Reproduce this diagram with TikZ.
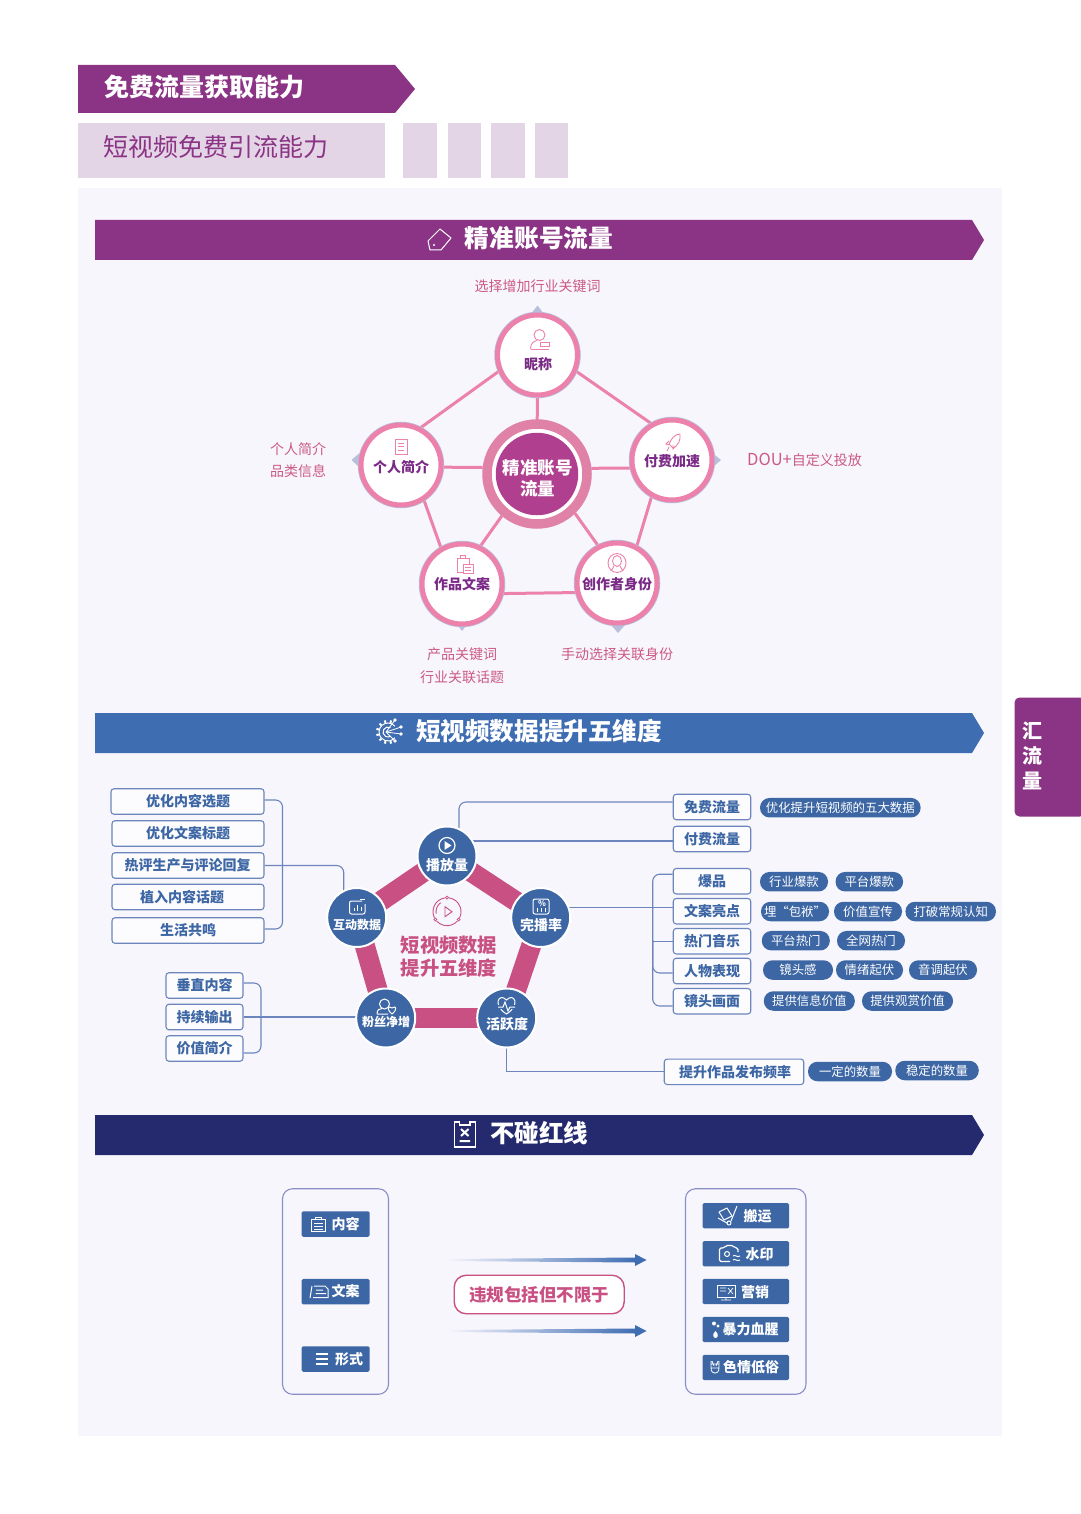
\documentclass[tikz,border=0pt]{standalone}
\usepackage{fontspec}
\setmainfont{Noto Sans CJK SC}
\usetikzlibrary{backgrounds}
\definecolor{grape}{HTML}{8B3384}
\definecolor{lilac}{HTML}{E3D4E6}
\definecolor{panelbg}{HTML}{F7F6FC}
\definecolor{rosetext}{HTML}{CC5A85}
\definecolor{roseline}{HTML}{EC82AB}
\definecolor{roseband}{HTML}{C85082}
\definecolor{ringpink}{HTML}{E081A8}
\definecolor{corepurple}{HTML}{B0408F}
\definecolor{petaltext}{HTML}{7A2A86}
\definecolor{haze}{HTML}{B8BFDB}
\definecolor{barblue}{HTML}{3F6DB2}
\definecolor{dotblue}{HTML}{3C66A4}
\definecolor{edgeblue}{HTML}{6C86BD}
\definecolor{navy}{HTML}{252A6E}
\definecolor{framelav}{HTML}{8A8EC6}
\newcommand{\pxfont}[1]{\fontsize{#1}{#1}\selectfont}
\tikzset{
  whitetext/.style={text=white,font=\pxfont{14}\bfseries,inner sep=0pt},
  note/.style={text=rosetext,font=\pxfont{14},inner sep=0pt},
  petal/.style={circle,draw=roseline,line width=5pt,fill=white,minimum size=80pt,inner sep=0pt,
    preaction={draw=haze,line width=6.5pt}},
  petallabel/.style={text=petaltext,font=\pxfont{14}\bfseries,inner sep=0pt},
  webline/.style={draw=roseline,line width=3pt},
  hazetip/.style={fill=haze},
  topic/.style={draw=edgeblue,line width=1.1pt,fill=panelbg!40!white,rounded corners=3pt,inner sep=0pt,
    text=dotblue,font=\pxfont{14}\bfseries,minimum height=25.5pt},
  pill/.style={fill=dotblue,rounded corners=9.5pt,inner sep=0pt,text=white,font=\pxfont{12.4},minimum height=19.5pt},
  dim/.style={circle,fill=dotblue,draw=white,line width=2pt,minimum size=59pt,inner sep=0pt},
  band/.style={draw=roseband,line width=20pt},
  conn/.style={draw=edgeblue,line width=1.1pt},
  frame/.style={draw=framelav,line width=1.1pt,rounded corners=10pt,fill=panelbg,inner sep=0pt},
  btn/.style={fill=dotblue,rounded corners=1.5pt,inner sep=0pt},
  roseicon/.style={draw=roseline,line width=0.9pt},
  whiteicon/.style={draw=white,line width=1pt},
}
\begin{document}
\begin{tikzpicture}[x=1pt,y=-1pt]
 \useasboundingbox (0,0) rectangle (1080,1514);

 % panel goes under everything
 \begin{pgfonlayer}{background}
 \fill[white] (0,0) rectangle (1080,1514);
 \fill[panelbg] (78,188) rectangle (1002,1436);
 \end{pgfonlayer}

 % heading
 \fill[grape] (78,65) -- (395,65) -- (415,89) -- (395,113) -- (78,113) -- cycle;
 \node[whitetext,font=\pxfont{25}\bfseries,anchor=west] (title) at (104,87) {免费流量获取能力};
 \fill[lilac] (78,123) rectangle (385,178);
 \node[text=grape,font=\pxfont{25},inner sep=0pt,anchor=west] (subtitle) at (103,147) {短视频免费引流能力};
 \foreach \x in {403,447.5,491,534.5} {
 \fill[lilac] (\x,123) rectangle ++(33.5,55);
 }

 % side tab
 \fill[grape,rounded corners=5pt] (1085,697.5) -- (1014.5,697.5) -- (1014.5,816.5) -- (1085,816.5) -- cycle;
 \node[whitetext,font=\pxfont{20}\bfseries] (tabone) at (1032,731) {汇};
 \node[whitetext,font=\pxfont{20}\bfseries] (tabtwo) at (1032,756) {流};
 \node[whitetext,font=\pxfont{20}\bfseries] (tabthree) at (1032,781) {量};

 % section bars
 \fill[grape] (95,220) -- (972,220) -- (984,240) -- (972,260) -- (95,260) -- cycle;
 \node[whitetext,font=\pxfont{24.7}\bfseries] (barone) at (539,238) {精准账号流量};
 \draw[whiteicon,line join=round] (428,241) -- (440,229) -- (451,238) -- (441,250) -- (430,250) -- cycle;
 \fill[white] (434,245) circle (1.1);

 \fill[barblue] (95,713) -- (972,713) -- (984,733) -- (972,753) -- (95,753) -- cycle;
 \node[whitetext,font=\pxfont{24.6}\bfseries] (bartwo) at (539,731) {短视频数据提升五维度};
 \begin{scope}[shift={(388,732)},y=1pt]
 \draw[whiteicon] (40:9) arc (40:320:9);
 \draw[whiteicon] (60:5) arc (60:300:5);
 \foreach \a in {75,105,...,285} {
 \draw[whiteicon,line width=2pt] (\a:9.5) -- (\a:12);
 }
 \end{scope}
 \foreach \dx/\dy in {395/720,401/727,401/734,395/741} {
 \fill[white] (\dx,\dy) circle (1.9);
 \draw[whiteicon,line width=0.8pt] (386,732) -- (\dx,\dy);
 }

 \fill[navy] (95,1115) -- (972,1115) -- (984,1135) -- (972,1155) -- (95,1155) -- cycle;
 \node[whitetext,font=\pxfont{24.5}\bfseries] (barthree) at (539,1133) {不碰红线};
 \draw[whiteicon,line width=1.8pt] (459,1122) -- (454.5,1122) -- (454.5,1147) -- (475.5,1147) -- (475.5,1122) -- (470,1122);
 \draw[whiteicon,line width=1.4pt] (459.5,1120.5) -- (459.5,1125) -- (470,1125) -- (470,1120.5);
 \draw[whiteicon,line width=2pt] (461,1129) -- (468.5,1136) (468.5,1129) -- (461,1136) (459.5,1141) -- (470,1141);

 % first block, the five petals
 \node[note] (nicknote) at (537.5,286) {选择增加行业关键词};
 \node[note,align=center,font=\fontsize{14}{22.5}\selectfont] (profnote) at (298,460) {个人简介\\品类信息};
 \node[note] (paidnote) at (804.5,460) {{\pxfont{16.5}DOU+}自定义投放};
 \node[note,align=center,font=\fontsize{14}{23}\selectfont] (worknote) at (462,665.5) {产品关键词\\行业关联话题};
 \node[note] (idnote) at (617,654) {手动选择关联身份};

 \fill[hazetip] (537.5,305.5) -- (544,314) -- (531,314) -- cycle;
 \fill[hazetip] (351.5,460) -- (359,453.5) -- (359,467) -- cycle;
 \fill[hazetip] (721,460) -- (713,453.5) -- (713,467) -- cycle;
 \fill[hazetip] (462,631) -- (455,622) -- (469,622) -- cycle;
 \fill[hazetip] (618,633) -- (611,625) -- (625,625) -- cycle;

 \node[petal] (nick) at (537.5,355) {};
 \node[petal] (prof) at (401,465) {};
 \node[petal] (paid) at (672,460) {};
 \node[petal] (work) at (462,584) {};
 \node[petal] (ident) at (617,583) {};
 \node[circle,draw=ringpink,line width=9.5pt,fill=white,minimum size=100pt,inner sep=0pt] (core) at (537,474) {};
 \node[circle,fill=corepurple,minimum size=82.5pt,inner sep=0pt] (coredisc) at (537,474) {};

 \begin{pgfonlayer}{background}
 \foreach \a/\b in {nick.203/prof.62,nick.-23/paid.120,nick.center/core.center,
   prof.-3/core.173,paid.191/core.6,work.64/core.230,ident.117/core.-46,
   prof.-57/work.120,paid.241/ident.62,work.-13/ident.193} {
 \draw[webline] (\a) -- (\b);
 }
 \end{pgfonlayer}

 \node[whitetext,font=\fontsize{17.5}{21}\selectfont\bfseries,align=center] (corelabel) at (537.5,478) {精准账号\\流量};
 \node[petallabel] (nicklabel) at (538,364) {昵称};
 \node[petallabel] (proflabel) at (401,467) {个人简介};
 \node[petallabel] (paidlabel) at (672,461) {付费加速};
 \node[petallabel] (worklabel) at (462,584) {作品文案};
 \node[petallabel] (idlabel) at (617,584) {创作者身份};

 % petal icons
 \draw[roseicon] (539.5,335) circle (5.5);
 \draw[roseicon] (530.5,349) .. controls (530.5,343) and (534,341) .. (537,340.5);
 \draw[roseicon] (530.5,349) -- (549,349) (540,342.5) rectangle (549,346);
 \draw[roseicon] (395,439) rectangle (407,454);
 \draw[roseicon] (398,443) -- (404,443) (398,446.5) -- (404,446.5) (398,450) -- (404,450);
 \draw[roseicon,line join=round] (680,434) .. controls (675,434) and (671,439) .. (669,444) -- (673,448) .. controls (678,446) and (681,440) .. (680,434) -- cycle;
 \draw[roseicon] (669,441) -- (666,444) -- (669,445) (673,445) -- (673,449) -- (675,447) (669,447) -- (667,451);
 \draw[roseicon] (457,558) rectangle (469,572);
 \draw[roseicon] (460,558) -- (460,555.5) -- (465,555.5) -- (465,558);
 \draw[roseicon,fill=white] (463,564) rectangle (473,573);
 \draw[roseicon] (465,567) -- (471,567) (465,570) -- (471,570);
 \draw[roseicon] (617,563) ellipse (9 and 9.5);
 \draw[roseicon] (617,561) ellipse (4.5 and 5.5);
 \draw[roseicon] (611,571) -- (614,566) (623,571) -- (620,566);

 % second block, five dimensions
 \node[topic,minimum width=153pt] (topicone) at (187.5,801.5) {\hspace*{1pt}优化内容选题};
 \node[topic,minimum width=152pt] (topictwo) at (188,833.5) {优化文案标题};
 \node[topic,minimum width=152pt] (topicthree) at (188,865.5) {\hspace*{-1pt}热评生产与评论回复};
 \node[topic,minimum width=152pt] (topicfour) at (188,897) {\hspace*{-12pt}植入内容话题};
 \node[topic,minimum width=152pt] (topicfive) at (188,930.5) {生活共鸣};
 \node[topic,minimum width=77pt] (vert) at (204.5,985.5) {垂直内容};
 \node[topic,minimum width=77pt] (keep) at (204.5,1017) {持续输出};
 \node[topic,minimum width=77pt] (worth) at (204.5,1048.5) {价值简介};

 \node[dim] (playnum) at (447,856) {};
 \node[dim] (inter) at (356.7,917.5) {};
 \node[dim] (finish) at (540.7,917.5) {};
 \node[dim] (fans) at (385.7,1018) {};
 \node[dim] (active) at (506.7,1018) {};

 \node[topic,minimum width=77.5pt] (freeflow) at (712,807) {免费流量};
 \node[topic,minimum width=77.5pt] (paidflow) at (712,839) {付费流量};
 \node[topic,minimum width=77.5pt] (hits) at (712,881.2) {爆品};
 \node[topic,minimum width=77.5pt] (copyhl) at (712,911.2) {文案亮点};
 \node[topic,minimum width=77.5pt] (music) at (712,941.2) {热门音乐};
 \node[topic,minimum width=77.5pt] (person) at (712,971) {人物表现};
 \node[topic,minimum width=77.5pt] (shot) at (712,1001.2) {镜头画面};
 \node[topic,minimum width=139.5pt] (freq) at (734,1071.8) {\hspace*{2pt}提升作品发布频率};

 \coordinate (bracea) at (282.5,865);
 \coordinate (braceb) at (261,1017);
 \coordinate (trunk) at (652.7,940);

 \begin{pgfonlayer}{background}
 \foreach \a/\b in {playnum/finish,finish/active,active/fans,fans/inter,inter/playnum} {
 \draw[band] (\a.center) -- (\b.center);
 }
 \draw[conn,rounded corners=7pt] ([yshift=1.5pt]topicone.east) -| (bracea) |- ([yshift=1.5pt]topicfive.east);
 \draw[conn,rounded corners=7pt] ([yshift=2.5pt]vert.east) -| (braceb) |- ([yshift=-4.5pt]worth.east);
 \draw[conn,rounded corners=7pt] (topicthree.east) -| ([xshift=-13pt]inter.center);
 \draw[conn] (keep.east) -- (keep.east -| fans.center);
 \draw[conn,rounded corners=7pt] ([xshift=12pt]playnum.center) |- ([yshift=5pt]freeflow.west);
 \draw[conn] ([yshift=-2pt]paidflow.west) -- ([yshift=-2pt]paidflow.west -| playnum.center);
 \draw[conn] ([yshift=4pt]copyhl.west) -- ([yshift=4pt]copyhl.west -| finish.center);
 \draw[conn,rounded corners=7pt] ([yshift=7pt]hits.west) -| (trunk) |- ([yshift=-4.8pt]shot.west);
 \draw[conn] (music.west) -- (music.west -| trunk);
 \draw[conn,rounded corners=7pt] (trunk) |- ([yshift=-2pt]person.west);
 \draw[conn] (active.center) |- (freq.west);
 \end{pgfonlayer}

 \node[text=roseband,font=\fontsize{19.3}{23}\selectfont\bfseries,inner sep=0pt,align=center] (dimtitle) at (449,956.5) {短视频数据\\提升五维度};
 \node[whitetext] (playlabel) at (447,865) {播放量};
 \node[whitetext,font=\pxfont{12}\bfseries] (interlabel) at (357,925) {互动数据};
 \node[whitetext] (finishlabel) at (541,925) {完播率};
 \node[whitetext,font=\pxfont{12}\bfseries] (fanslabel) at (386,1022) {粉丝净增};
 \node[whitetext] (activelabel) at (507,1024) {活跃度};

 % icons in the blue discs
 \draw[whiteicon,line width=1.2pt] (447,845.5) circle (8);
 \fill[white] (444.5,841) -- (451.5,845.5) -- (444.5,850) -- cycle;
 \draw[whiteicon,rounded corners=2pt] (362,901) -- (349.5,901) -- (349.5,914) -- (365,914) -- (365,904);
 \draw[whiteicon] (354,911) -- (354,908) (357.5,911) -- (357.5,905) (361,911) -- (361,907);
 \draw[whiteicon] (360,899.5) -- (365,899.5);
 \draw[whiteicon,rounded corners=2pt] (533,899) rectangle (549,914);
 \draw[whiteicon] (537,911.5) -- (537,908) (541,911.5) -- (541,908) (545,911.5) -- (545,908);
 \node[whitetext,font=\pxfont{8}\bfseries] (pct) at (542,903.5) {\%};
 \draw[whiteicon] (384.5,1004) circle (5);
 \draw[whiteicon] (377,1014) .. controls (377,1009) and (380,1009) .. (382,1008.5) (377,1014) -- (388,1014);
 \draw[whiteicon,fill=dotblue] (392,1014) .. controls (386,1009) and (388,1005) .. (392,1008) .. controls (396,1005) and (398,1009) .. (392,1014) -- cycle;
 \draw[whiteicon] (506.5,1014) .. controls (492,1005) and (499,992) .. (506.5,1000) .. controls (514,992) and (521,1005) .. (506.5,1014) -- cycle;
 \fill[dotblue] (498,1004.5) rectangle (515,1009);
 \draw[whiteicon] (498,1007) -- (503,1007) -- (505,1002) -- (508,1011) -- (510,1007) -- (515,1007);
 \begin{scope}[shift={(447,911.7)},y=1pt,draw=roseband,line width=0.9pt]
 \draw (98:14) arc (98:206:14) (82:14) arc (82:-26:14) (-42:14) arc (-42:-138:14);
 \draw (125:11) arc (125:190:11);
 \foreach \a in {90,214,-34} {
 \draw[fill=panelbg,line width=0.7pt] (\a:14) circle (1.5);
 }
 \draw (-2,5) -- (-2,-5) -- (5,0) -- cycle;
 \end{scope}

 % right hand pills
 \foreach \px/\py/\pw/\pname/\ptext in {
 840.3/807.7/160.6/pa/优化提升短视频的五大数据,
 794/881.7/68/pb/行业爆款,
 869.3/881.7/67.5/pc/平台爆款,
 795/911.5/68/pd/埋“包袱”,
 868/911.5/68/pe/价值宣传,
 950.7/911.5/90.5/pf/打破常规认知,
 795.8/940.7/68/pg/平台热门,
 871/940.7/68/ph/全网热门,
 798/970/70/pi/镜头感,
 869.5/970/67/pj/情绪起伏,
 943/970/68/pk/音调起伏,
 809.3/1001/91/pl/提供信息价值,
 907.5/1001/91/pm/提供观赏价值,
 850/1071.5/84/pn/一定的数量,
 937/1070.5/83.5/po/稳定的数量} {
 \node[pill,minimum width=\pw pt] (\pname) at (\px,\py) {\ptext};
 }

 % third block
 \node[frame,minimum width=106pt,minimum height=205.5pt] (leftframe) at (335.5,1291.5) {};
 \node[frame,minimum width=120.5pt,minimum height=205.5pt] (rightframe) at (745.7,1291.5) {};

 \foreach \py/\pname in {1224/ba,1291.7/bb,1359/bc} {
 \node[btn,minimum width=68pt,minimum height=25.5pt] (\pname) at (335.6,\py) {};
 }
 \foreach \py/\pname in {1215.8/bd,1253.7/be,1291.5/bf,1329.5/bg,1367.5/bh} {
 \node[btn,minimum width=86.5pt,minimum height=25.3pt] (\pname) at (745.8,\py) {};
 }
 \node[whitetext] (neirong) at (345.5,1224.5) {内容};
 \node[whitetext] (wenan) at (345.5,1291.5) {文案};
 \node[whitetext] (xingshi) at (349,1359.5) {形式};
 \node[whitetext] (banyun) at (757.5,1216) {搬运};
 \node[whitetext] (shuiyin) at (759.5,1254) {水印};
 \node[whitetext] (yingxiao) at (755,1292) {营销};
 \node[whitetext] (baoli) at (750.5,1329.5) {暴力血腥};
 \node[whitetext] (seqing) at (751,1367.5) {色情低俗};

 % button icons
 \draw[whiteicon] (311.5,1219) rectangle (325,1231.5);
 \draw[whiteicon] (315,1219) -- (315,1217) -- (321.5,1217) -- (321.5,1219) (314,1223) -- (322.5,1223) (314,1226) -- (322.5,1226) (314,1229) -- (322.5,1229);
 \draw[whiteicon] (310,1298) -- (312,1286) (313,1297.5) -- (328,1297.5) -- (328,1289) -- (325,1286) -- (314,1286) (316,1290) -- (323,1290) (315.5,1293.5) -- (326,1293.5);
 \foreach \py in {1354,1359,1364} {
 \draw[white,line width=1.6pt] (315.5,\py) -- (328,\py);
 }
 \draw[whiteicon,line join=round] (719,1212) -- (727,1208) -- (732,1216) -- (724,1220) -- cycle;
 \draw[whiteicon] (731,1221) -- (737,1206) (718,1218) -- (727,1223);
 \draw[whiteicon] (729,1223) circle (2);
 \draw[whiteicon,rounded corners=1.5pt,line width=1.2pt] (730,1261.5) -- (719.5,1261.5) -- (719.5,1248) -- (724,1248) -- (726,1245.5) -- (733,1245.5) -- (735,1248) -- (738,1248) -- (738,1252);
 \draw[whiteicon] (727,1254) circle (2.5);
 \draw[whiteicon] (733,1256) .. controls (735,1254) and (737,1258) .. (740,1256) (733,1260) .. controls (735,1258) and (737,1262) .. (740,1260);
 \draw[whiteicon,line width=0.7pt] (717,1285) rectangle (735,1297);
 \draw[whiteicon,line width=0.7pt] (726,1297) -- (726,1300) (721,1300) -- (731,1300) (720,1288) -- (726,1288) (720,1291) -- (726,1291) (728,1288) -- (733,1294) (733,1288) -- (728,1294);
 \fill[white] (715.5,1331) .. controls (711,1335) and (714,1338) .. (715.5,1338) .. controls (717,1338) and (720,1335) .. (715.5,1331) -- cycle;
 \fill[white] (714,1323.5) circle (2);
 \fill[white] (718,1326) circle (1.7);
 \draw[whiteicon,line width=0.8pt] (711,1361) -- (711,1368) -- (719,1368) -- (719,1361) (711,1368) .. controls (711,1375) and (719,1375) .. (719,1368) (711,1364) -- (719,1364) (712,1361) -- (714,1366) (718,1361) -- (716,1366);

 % centre label and the two gradient arrows
 \node[draw=roseband,line width=1.4pt,fill=white,rounded corners=12pt,minimum width=170pt,minimum height=38.5pt,
   text=roseband,font=\pxfont{17.5}\bfseries,inner sep=0pt] (banner) at (539.2,1294.5) {违规包括但不限于};
 \foreach \py/\pname in {1260/arrowa,1331/arrowb} {
 \shade[left color=panelbg,right color=barblue] (447,\py-1) -- (636,\py-2.5) -- (636,\py+2.5) -- (447,\py+1) -- cycle;
 \fill[barblue] (635,\py-6) -- (646.5,\py) -- (635,\py+6) -- cycle;
 }
\end{tikzpicture}
\end{document}
